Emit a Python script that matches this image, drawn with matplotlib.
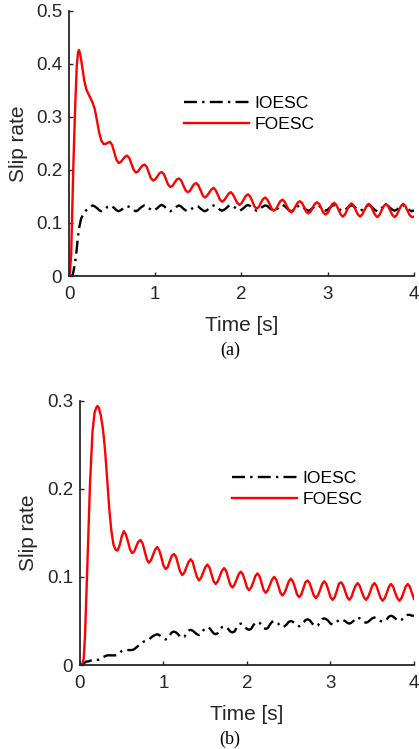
import matplotlib
matplotlib.use("Agg")
import matplotlib.pyplot as plt

# ---------------- data ----------------
time_grid = [
    0.0, 0.025, 0.05, 0.075, 0.1, 0.125, 0.15, 0.175,
    0.2, 0.225, 0.25, 0.275, 0.3, 0.325, 0.35, 0.375,
    0.4, 0.425, 0.45, 0.475, 0.5, 0.525, 0.55, 0.575,
    0.6, 0.625, 0.65, 0.675, 0.7, 0.725, 0.75, 0.775,
    0.8, 0.825, 0.85, 0.875, 0.9, 0.925, 0.95, 0.975,
    1.0, 1.025, 1.05, 1.075, 1.1, 1.125, 1.15, 1.175,
    1.2, 1.225, 1.25, 1.275, 1.3, 1.325, 1.35, 1.375,
    1.4, 1.425, 1.45, 1.475, 1.5, 1.525, 1.55, 1.575,
    1.6, 1.625, 1.65, 1.675, 1.7, 1.725, 1.75, 1.775,
    1.8, 1.825, 1.85, 1.875, 1.9, 1.925, 1.95, 1.975,
    2.0, 2.025, 2.05, 2.075, 2.1, 2.125, 2.15, 2.175,
    2.2, 2.225, 2.25, 2.275, 2.3, 2.325, 2.35, 2.375,
    2.4, 2.425, 2.45, 2.475, 2.5, 2.525, 2.55, 2.575,
    2.6, 2.625, 2.65, 2.675, 2.7, 2.725, 2.75, 2.775,
    2.8, 2.825, 2.85, 2.875, 2.9, 2.925, 2.95, 2.975,
    3.0, 3.025, 3.05, 3.075, 3.1, 3.125, 3.15, 3.175,
    3.2, 3.225, 3.25, 3.275, 3.3, 3.325, 3.35, 3.375,
    3.4, 3.425, 3.45, 3.475, 3.5, 3.525, 3.55, 3.575,
    3.6, 3.625, 3.65, 3.675, 3.7, 3.725, 3.75, 3.775,
    3.8, 3.825, 3.85, 3.875, 3.9, 3.925, 3.95, 3.975,
    4.0,
]

# (a) FOESC
t_foesc_a_start = [0.0, 0.01, 0.025, 0.035, 0.05, 0.07, 0.09, 0.105, 0.116, 0.13,
                   0.15, 0.175, 0.2, 0.225, 0.25, 0.275, 0.3, 0.325, 0.35, 0.375,
                   0.4, 0.425, 0.45, 0.475]
foesc_a_start = [0.0, 0.005, 0.04, 0.11, 0.206, 0.313, 0.396, 0.422, 0.426, 0.418,
                 0.398, 0.37, 0.352, 0.343, 0.335, 0.326, 0.314, 0.292, 0.27, 0.255,
                 0.249, 0.249, 0.251, 0.253]
foesc_a_rest = [
    0.247, 0.233, 0.219, 0.213, 0.215, 0.220, 0.225, 0.227,
    0.222, 0.211, 0.200, 0.195, 0.197, 0.203, 0.208, 0.210,
    0.206, 0.195, 0.184, 0.180, 0.182, 0.188, 0.194, 0.196,
    0.192, 0.182, 0.172, 0.168, 0.170, 0.176, 0.182, 0.184,
    0.180, 0.171, 0.162, 0.158, 0.160, 0.167, 0.173, 0.175,
    0.171, 0.162, 0.152, 0.148, 0.151, 0.157, 0.163, 0.166,
    0.162, 0.153, 0.144, 0.140, 0.143, 0.149, 0.155, 0.158,
    0.154, 0.146, 0.138, 0.134, 0.137, 0.144, 0.151, 0.154,
    0.150, 0.141, 0.131, 0.127, 0.130, 0.138, 0.145, 0.148,
    0.144, 0.136, 0.127, 0.123, 0.126, 0.134, 0.141, 0.144,
    0.140, 0.132, 0.124, 0.120, 0.123, 0.131, 0.138, 0.141,
    0.138, 0.130, 0.121, 0.118, 0.121, 0.129, 0.136, 0.139,
    0.136, 0.128, 0.119, 0.116, 0.119, 0.127, 0.135, 0.138,
    0.134, 0.125, 0.116, 0.112, 0.116, 0.125, 0.133, 0.137,
    0.133, 0.124, 0.116, 0.112, 0.116, 0.124, 0.132, 0.136,
    0.132, 0.123, 0.115, 0.111, 0.115, 0.124, 0.132, 0.136,
    0.132, 0.123, 0.115, 0.111, 0.115, 0.124, 0.132, 0.136,
    0.132, 0.123, 0.115, 0.111, 0.112,
]

# (a) IOESC
t_ioesc_a_start = [0.0, 0.03, 0.045, 0.06, 0.08, 0.1, 0.115, 0.14, 0.17, 0.2,
                   0.225, 0.25, 0.275]
ioesc_a_start = [0.0, 0.0, 0.003, 0.016, 0.036, 0.068, 0.089, 0.108, 0.118, 0.124,
                 0.128, 0.131, 0.133]
ioesc_a_rest = [
    0.131, 0.128, 0.124, 0.122, 0.124, 0.127, 0.131, 0.133,
    0.131, 0.128, 0.124, 0.122, 0.124, 0.127, 0.130, 0.132,
    0.130, 0.127, 0.124, 0.122, 0.124, 0.128, 0.131, 0.133,
    0.132, 0.128, 0.125, 0.123, 0.125, 0.128, 0.132, 0.134,
    0.132, 0.128, 0.124, 0.122, 0.124, 0.127, 0.131, 0.133,
    0.131, 0.127, 0.124, 0.122, 0.124, 0.127, 0.130, 0.132,
    0.131, 0.127, 0.124, 0.122, 0.124, 0.128, 0.131, 0.133,
    0.132, 0.128, 0.125, 0.123, 0.125, 0.128, 0.132, 0.134,
    0.132, 0.129, 0.125, 0.123, 0.125, 0.128, 0.132, 0.134,
    0.132, 0.128, 0.125, 0.123, 0.125, 0.128, 0.131, 0.133,
    0.132, 0.128, 0.125, 0.123, 0.125, 0.128, 0.132, 0.134,
    0.132, 0.128, 0.124, 0.122, 0.124, 0.128, 0.131, 0.133,
    0.132, 0.128, 0.125, 0.123, 0.125, 0.128, 0.132, 0.134,
    0.132, 0.129, 0.125, 0.123, 0.125, 0.129, 0.132, 0.134,
    0.132, 0.128, 0.124, 0.122, 0.124, 0.128, 0.131, 0.133,
    0.132, 0.128, 0.125, 0.123, 0.125, 0.128, 0.132, 0.134,
    0.132, 0.128, 0.124, 0.122, 0.124, 0.128, 0.131, 0.133,
    0.132, 0.128, 0.125, 0.123, 0.125, 0.128, 0.132, 0.134,
    0.131, 0.128, 0.124, 0.122, 0.124,
]

# (b) FOESC
t_foesc_b_start = [0.0, 0.03, 0.045, 0.06, 0.08, 0.1, 0.12, 0.15, 0.175, 0.2,
                   0.21, 0.225, 0.25, 0.275, 0.3, 0.325, 0.35, 0.375, 0.4, 0.425,
                   0.45, 0.475]
foesc_b_start = [0.0, 0.001, 0.008, 0.033, 0.089, 0.149, 0.206, 0.265, 0.287, 0.293,
                 0.294, 0.292, 0.283, 0.268, 0.244, 0.212, 0.178, 0.153, 0.137, 0.131,
                 0.130, 0.136]
foesc_b_rest = [
    0.146, 0.152, 0.148, 0.140, 0.131, 0.127, 0.129, 0.135,
    0.140, 0.142, 0.138, 0.129, 0.120, 0.116, 0.119, 0.125,
    0.131, 0.134, 0.130, 0.122, 0.113, 0.109, 0.111, 0.118,
    0.124, 0.126, 0.123, 0.114, 0.106, 0.102, 0.105, 0.111,
    0.117, 0.120, 0.117, 0.108, 0.100, 0.096, 0.099, 0.105,
    0.111, 0.114, 0.111, 0.103, 0.095, 0.092, 0.095, 0.101,
    0.107, 0.110, 0.107, 0.099, 0.091, 0.088, 0.091, 0.097,
    0.103, 0.106, 0.103, 0.096, 0.088, 0.085, 0.088, 0.094,
    0.101, 0.104, 0.101, 0.093, 0.085, 0.082, 0.085, 0.091,
    0.097, 0.100, 0.097, 0.090, 0.082, 0.079, 0.082, 0.088,
    0.095, 0.098, 0.095, 0.088, 0.080, 0.077, 0.080, 0.087,
    0.094, 0.096, 0.093, 0.086, 0.079, 0.076, 0.079, 0.085,
    0.092, 0.095, 0.092, 0.085, 0.077, 0.074, 0.077, 0.084,
    0.092, 0.094, 0.091, 0.084, 0.077, 0.074, 0.077, 0.084,
    0.090, 0.093, 0.090, 0.083, 0.077, 0.074, 0.077, 0.083,
    0.090, 0.093, 0.090, 0.083, 0.076, 0.073, 0.076, 0.082,
    0.089, 0.092, 0.089, 0.082, 0.076, 0.073, 0.076, 0.082,
    0.089, 0.092, 0.089, 0.082, 0.075,
]

# (b) IOESC (sampled on time_grid)
ioesc_b = [
    0.000, 0.001, 0.002, 0.004, 0.004, 0.005, 0.005, 0.005,
    0.006, 0.006, 0.007, 0.009, 0.010, 0.011, 0.011, 0.011,
    0.011, 0.011, 0.012, 0.014, 0.016, 0.017, 0.017, 0.017,
    0.017, 0.017, 0.018, 0.020, 0.022, 0.024, 0.026, 0.027,
    0.028, 0.029, 0.031, 0.033, 0.034, 0.035, 0.034, 0.032,
    0.030, 0.029, 0.030, 0.034, 0.037, 0.038, 0.037, 0.035,
    0.032, 0.031, 0.032, 0.036, 0.039, 0.040, 0.039, 0.037,
    0.035, 0.034, 0.035, 0.039, 0.042, 0.043, 0.042, 0.039,
    0.036, 0.035, 0.036, 0.040, 0.043, 0.044, 0.043, 0.041,
    0.038, 0.037, 0.038, 0.042, 0.046, 0.047, 0.046, 0.043,
    0.041, 0.040, 0.041, 0.045, 0.048, 0.049, 0.048, 0.045,
    0.042, 0.041, 0.042, 0.046, 0.049, 0.050, 0.049, 0.047,
    0.044, 0.043, 0.044, 0.046, 0.049, 0.050, 0.049, 0.047,
    0.045, 0.044, 0.045, 0.048, 0.051, 0.052, 0.051, 0.048,
    0.045, 0.044, 0.045, 0.049, 0.052, 0.053, 0.052, 0.050,
    0.047, 0.046, 0.047, 0.049, 0.051, 0.052, 0.051, 0.050,
    0.048, 0.047, 0.048, 0.050, 0.053, 0.054, 0.053, 0.051,
    0.049, 0.048, 0.049, 0.051, 0.053, 0.054, 0.053, 0.052,
    0.050, 0.049, 0.050, 0.052, 0.055, 0.056, 0.055, 0.053,
    0.051, 0.050, 0.051, 0.054, 0.056, 0.057, 0.057, 0.056,
    0.056,
]

series_names = ["IOESC", "FOESC"]
x_ticks = [0, 1, 2, 3, 4]
x_ticklabels = ["0", "1", "2", "3", "4"]
y_ticks_a = [0, 0.1, 0.2, 0.3, 0.4, 0.5]
y_ticklabels_a = ["0", "0.1", "0.2", "0.3", "0.4", "0.5"]
y_ticks_b = [0, 0.1, 0.2, 0.3]
y_ticklabels_b = ["0", "0.1", "0.2", "0.3"]
x_label = "Time [s]"
y_label = "Slip rate"
captions = ["(a)", "(b)"]

t_foesc_a = t_foesc_a_start + time_grid[20:]
v_foesc_a = foesc_a_start + foesc_a_rest
t_ioesc_a = t_ioesc_a_start + time_grid[12:]
v_ioesc_a = ioesc_a_start + ioesc_a_rest
t_foesc_b = t_foesc_b_start + time_grid[20:]
v_foesc_b = foesc_b_start + foesc_b_rest
t_ioesc_b = time_grid
v_ioesc_b = ioesc_b

# ---------------- style ----------------
plt.rcParams['font.family'] = ['Liberation Sans', 'DejaVu Sans']
AX_COLOR = "#262626"
DASHDOT = (0, (5.5, 2.2, 1.0, 2.2))
LW = 1.7

fig = plt.figure(figsize=(4.19, 7.49), dpi=100)
ax1 = fig.add_axes([0.1647, 0.6315, 0.8233, 0.3542])
ax2 = fig.add_axes([0.1909, 0.1121, 0.7971, 0.3529])


def style_axes(ax, yticks, yticklabels, ylim, leg_anchor):
    ax.set_xlim(0, 4)
    ax.set_ylim(*ylim)
    ax.set_xticks(x_ticks)
    ax.set_xticklabels(x_ticklabels)
    ax.set_yticks(yticks)
    ax.set_yticklabels(yticklabels)
    for s in ["top", "right"]:
        ax.spines[s].set_visible(False)
    for s in ["left", "bottom"]:
        ax.spines[s].set_color(AX_COLOR)
        ax.spines[s].set_linewidth(1.3)
    ax.tick_params(direction="in", length=3, width=1.0, colors=AX_COLOR,
                   labelsize=13.5)
    ax.tick_params(axis="x", pad=7)
    ax.tick_params(axis="y", pad=5)
    ax.set_xlabel(x_label, fontsize=15, color=AX_COLOR)
    ax.set_ylabel(y_label, fontsize=15, color=AX_COLOR)
    leg = ax.legend(loc="center left", bbox_to_anchor=leg_anchor, frameon=False,
                    fontsize=12.6, handlelength=3.7, handletextpad=0.35,
                    labelspacing=0.35, borderpad=0, borderaxespad=0)
    for txt in leg.get_texts():
        txt.set_color("black")


ax1.plot(t_ioesc_a, v_ioesc_a, color="black", lw=LW, linestyle=DASHDOT,
         label=series_names[0])
ax1.plot(t_foesc_a, v_foesc_a, color="#ff0000", lw=LW, label=series_names[1])
style_axes(ax1, y_ticks_a, y_ticklabels_a, (0, 0.5), (0.333, 0.611))
ax1.xaxis.set_label_coords(0.5, -0.15)
ax1.yaxis.set_label_coords(-0.119, 0.5)

ax2.plot(t_ioesc_b, v_ioesc_b, color="black", lw=LW, linestyle=DASHDOT,
         label=series_names[0])
ax2.plot(t_foesc_b, v_foesc_b, color="#ff0000", lw=LW, label=series_names[1])
style_axes(ax2, y_ticks_b, y_ticklabels_b, (0, 0.3), (0.455, 0.666))
ax2.xaxis.set_label_coords(0.5, -0.15)
ax2.yaxis.set_label_coords(-0.126, 0.5)

fig.text(0.549, 0.5327, captions[0], ha="center", va="center",
         fontsize=13, family=["Liberation Serif", "DejaVu Serif"])
fig.text(0.549, 0.0131, captions[1], ha="center", va="center",
         fontsize=13, family=["Liberation Serif", "DejaVu Serif"])

fig.savefig("out.png", dpi=100)
